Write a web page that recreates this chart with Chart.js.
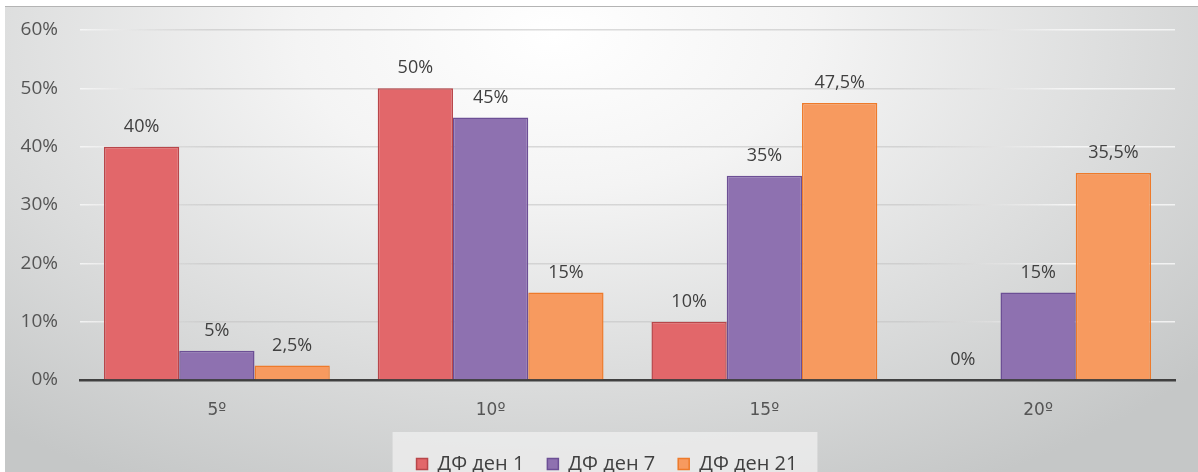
<!DOCTYPE html>
<html>
<head>
<meta charset="utf-8">
<script src="https://cdn.jsdelivr.net/npm/chart.js@4"></script>
<style>
    html, body { margin: 0; padding: 0; background: #ffffff; }
    #wrap {
        position: absolute;
        left: 5px; top: 6px;
        width: 1193px; height: 466px;
        overflow: hidden;
        border-top: 1px solid #b4b4b4;
        background: radial-gradient(ellipse 72% 110% at 46% 6%, #ffffff 0%, #f4f4f4 30%, #dcdddd 66%, #c5c7c7 100%);
    }
    canvas { display: block; }
</style>
</head>
<body>
<div id="wrap"><canvas id="chartDf" width="1193" height="477"></canvas></div>
<script>
var categorias = ['5º', '10º', '15º', '20º'];
var serieNombres = ['ДФ ден 1', 'ДФ ден 7', 'ДФ ден 21'];
var den1 = [40, 50, 10, 0];
var den7 = [5, 45, 35, 15];
var den21 = [2.5, 15, 47.5, 35.5];
var ticksY = [0, 10, 20, 30, 40, 50, 60];

var rellenos = ['#e2676a', '#8e71b0', '#f79a5f'];
var bordes = ['#b8464a', '#6c4f95', '#ee7a2a'];
var fuente = "'Open Sans', sans-serif";

function formatoPct(v) {
    return String(v).replace('.', ',') + '%';
}

// líneas de cuadrícula: claras sobre los bordes grises, grises en el centro
var gradGrid = null;
function colorGrid(context) {
    var chart = context.chart;
    var area = chart.chartArea;
    if (!area) return 'rgba(190,190,190,0.55)';
    if (!gradGrid) {
        gradGrid = chart.ctx.createLinearGradient(area.left, 0, area.right, 0);
        gradGrid.addColorStop(0, 'rgba(250,250,250,0.8)');
        gradGrid.addColorStop(0.12, 'rgba(195,195,195,0.6)');
        gradGrid.addColorStop(0.75, 'rgba(195,195,195,0.6)');
        gradGrid.addColorStop(0.9, 'rgba(250,250,250,0.8)');
        gradGrid.addColorStop(1, 'rgba(250,250,250,0.8)');
    }
    return gradGrid;
}

// etiquetas de valor encima de cada barra
var etiquetasValor = {
    id: 'etiquetasValor',
    afterDatasetsDraw: function (chart) {
        var ctx = chart.ctx;
        ctx.save();
        ctx.font = '18px ' + fuente;
        ctx.fillStyle = '#404040';
        ctx.textAlign = 'center';
        ctx.textBaseline = 'middle';
        chart.data.datasets.forEach(function (ds, i) {
            chart.getDatasetMeta(i).data.forEach(function (bar, j) {
                ctx.fillText(formatoPct(ds.data[j]), bar.x, bar.y - 20);
            });
        });
        ctx.restore();
    }
};

// leyenda algo desplazada a la derecha, con un recuadro claro detrás
var fondoLeyenda = {
    id: 'fondoLeyenda',
    afterLayout: function (chart) {
        chart.legend.left += 17;
        chart.legend.right += 17;
    },
    beforeDraw: function (chart) {
        var lg = chart.legend;
        if (!lg || !lg.legendHitBoxes.length) return;
        var first = lg.legendHitBoxes[0];
        var last = lg.legendHitBoxes[lg.legendHitBoxes.length - 1];
        var ctx = chart.ctx;
        ctx.save();
        ctx.fillStyle = 'rgba(238,238,238,0.8)';
        ctx.fillRect(first.left - 24, first.top - 22, last.left + last.width - first.left + 44, 80);
        ctx.restore();
    }
};

new Chart(document.getElementById('chartDf').getContext('2d'), {
    type: 'bar',
    data: {
        labels: categorias,
        datasets: [den1, den7, den21].map(function (d, i) {
            return {
                label: serieNombres[i],
                data: d,
                backgroundColor: rellenos[i],
                borderColor: bordes[i],
                borderWidth: 1.5,
                borderSkipped: 'bottom',
                barPercentage: 1,
                categoryPercentage: 0.825
            };
        })
    },
    options: {
        responsive: false,
        animation: false,
        layout: { padding: { top: 23, right: 23, left: 0, bottom: 0 } },
        plugins: {
            legend: {
                position: 'bottom',
                labels: {
                    font: { family: fuente, size: 20 },
                    color: '#404040',
                    boxWidth: 11,
                    boxHeight: 11,
                    padding: 23
                }
            },
            tooltip: { enabled: false }
        },
        scales: {
            y: {
                min: 0,
                max: 60,
                afterBuildTicks: function (scale) {
                    scale.ticks = ticksY.map(function (v) { return { value: v }; });
                },
                afterFit: function (scale) {
                    scale.width = 75;
                    scale.paddingTop = 12;
                    scale.paddingBottom = 12;
                },
                ticks: {
                    callback: function (v) { return v + '%'; },
                    font: { family: fuente, size: 19 },
                    color: '#555555',
                    padding: 22
                },
                grid: { color: colorGrid, lineWidth: 1.5, drawTicks: false },
                border: { display: false }
            },
            x: {
                afterFit: function (scale) { scale.height = 51; },
                ticks: {
                    font: { family: "'DejaVu Sans', sans-serif", size: 17 },
                    color: '#555555',
                    padding: 20
                },
                grid: { display: false, drawTicks: false },
                border: { color: '#404040', width: 2.5 }
            }
        }
    },
    plugins: [fondoLeyenda, etiquetasValor]
});
</script>
</body>
</html>
